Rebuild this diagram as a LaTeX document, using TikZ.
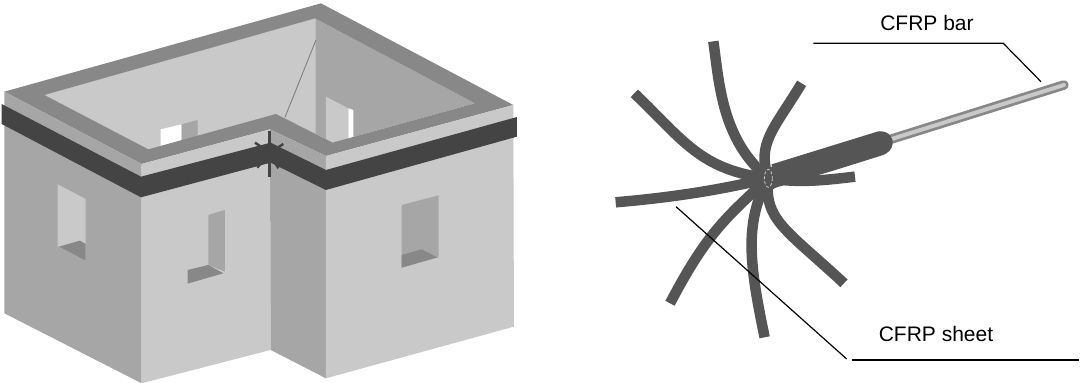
\documentclass[tikz,border=0pt]{standalone}
\usepackage{fontspec}
\setmainfont{Liberation Sans}
\definecolor{lite}{HTML}{C9C9C9}
\definecolor{midg}{HTML}{A6A6A6}
\definecolor{topg}{HTML}{888888}
\definecolor{band}{HTML}{444444}
\definecolor{strip}{HTML}{555555}
\tikzset{
  lab/.style={font=\fontsize{21}{24}\selectfont,text=black,inner sep=0pt},
  lead/.style={draw=black,line width=1.2pt},
  sheetstrip/.style={draw=strip,line width=10.5pt,line cap=butt},
  starline/.style={draw=band,line width=2.4pt},
}
\begin{document}
\begin{tikzpicture}[x=1pt,y=-1pt]
\useasboundingbox (0,0) rectangle (1080,383);
\fill[white] (0,0) rectangle (1080,383);
\begin{scope}[x=0.3333pt,y=-0.3333pt]
% interior
\fill[midg] (133,285)--(945,55)--(1425,310)--(998,428)--(828,342)--(445,448)--cycle;
\fill[lite] (133,285)--(947,55)--(947,415)--(828,342)--(445,448)--cycle;
\fill[lite] (978,290)--(1045,325)--(1045,415)--(998,428)--(978,418)--cycle;
\fill[white] (1045,325)--(1060,330)--(1060,412)--(1045,416)--cycle;
\fill[white] (482,388)--(545,373)--(545,425)--(482,442)--cycle;
\fill[midg] (545,373)--(593,360)--(593,408)--(545,422)--cycle;
\draw[draw=gray,line width=0.9pt] (948,120)--(855,352);
% ring top
\fill[topg,even odd rule] (13,275)--(963,10)--(1540,315)--(978,468)--(810,388)--(425,492)--cycle
  (133,285)--(445,448)--(828,342)--(998,428)--(1425,310)--(945,55)--cycle;
% walls
\fill[midg] (13,275)--(425,492)--(425,1150)--(13,940)--cycle;
\fill[lite] (425,492)--(810,388)--(812,1050)--(425,1150)--cycle;
\fill[midg] (810,388)--(978,468)--(978,1135)--(812,1050)--cycle;
\fill[lite] (978,468)--(1540,315)--(1542,980)--(978,1135)--cycle;
% band
\fill[band] (5,312)--(423,530)--(812,428)--(978,510)--(1551,351)--(1551,410)--(978,570)--(812,488)--(423,592)--(5,372)--cycle;
% windows
\fill[lite] (173,553)--(257,597)--(257,782)--(177,740)--(173,740)--cycle;
\fill[topg] (177,740)--(240,722)--(257,732)--(257,782)--cycle;
\fill[midg] (625,645)--(675,630)--(675,815)--(625,795)--cycle;
\fill[topg] (563,810)--(625,795)--(670,820)--(563,851)--cycle;
\fill[midg] (1205,615)--(1316,586)--(1316,772)--(1205,803)--cycle;
\fill[topg] (1205,765)--(1265,748)--(1312,772)--(1205,803)--cycle;
% star
\draw[starline,line width=3pt] (808,392)--(808,532);
\coordinate (hubA) at (810,458);
\foreach \ex/\ey in {765/428,850/432,772/503,835/505}{
  \draw[starline] (hubA)--(\ex,\ey);
}
\fill[band] (hubA) circle (22);
\end{scope}
\begin{scope}[shift={(600pt,0pt)},x=0.3333pt,y=-0.3333pt]
\coordinate (hub) at (505,535);
% bar
\draw[draw=topg,line width=9.5pt,line cap=round] (875,417)--(1392,255);
\draw[draw=lite,line width=4pt,line cap=round] (875,417)--(1392,255);
% strips
\draw[sheetstrip] (340,124) .. controls (358,250) and (365,420) .. (hub);
\draw[sheetstrip] (103,280) .. controls (250,420) and (300,510) .. (hub);
\draw[sheetstrip] (605,250) .. controls (520,390) and (470,430) .. (hub);
\draw[sheetstrip] (47,607) .. controls (220,592) and (360,570) .. (hub);
\draw[sheetstrip] (210,910) .. controls (320,700) and (380,650) .. (hub);
\draw[sheetstrip] (494,1012) .. controls (450,800) and (430,670) .. (hub);
\draw[sheetstrip] (732,850) .. controls (560,690) and (490,660) .. (hub);
\draw[sheetstrip] (765,530) .. controls (680,540) and (600,550) .. (hub);
% sleeve
\fill[strip] (515,493) -- (835,394) .. controls (865,392) and (880,410) .. (878,432)
  .. controls (875,450) and (865,458) .. (850,465) -- (700,512) -- (520,565) -- cycle;
\fill[strip] (hub) circle (36);
\draw[draw=lite,line width=0.8pt,dashed,dash pattern=on 3pt off 2pt] (hub) ellipse (12 and 27);
% leaders
\coordinate (barA) at (640,130);
\coordinate (barB) at (1210,130);
\coordinate (barC) at (1323,245);
\draw[lead] (barA)--(barB)--(barC);
\coordinate (shA) at (228,620);
\coordinate (shB) at (740,1077);
\draw[lead] (shA)--(shB);
\coordinate (shC) at (755,1080);
\coordinate (shD) at (1437,1080);
\draw[lead] (shC)--(shD);
\node[lab] (barlabel) at (981,68) {CFRP bar};
\node[lab] (sheetlabel) at (1008,1003) {CFRP sheet};
\end{scope}
\end{tikzpicture}
\end{document}
